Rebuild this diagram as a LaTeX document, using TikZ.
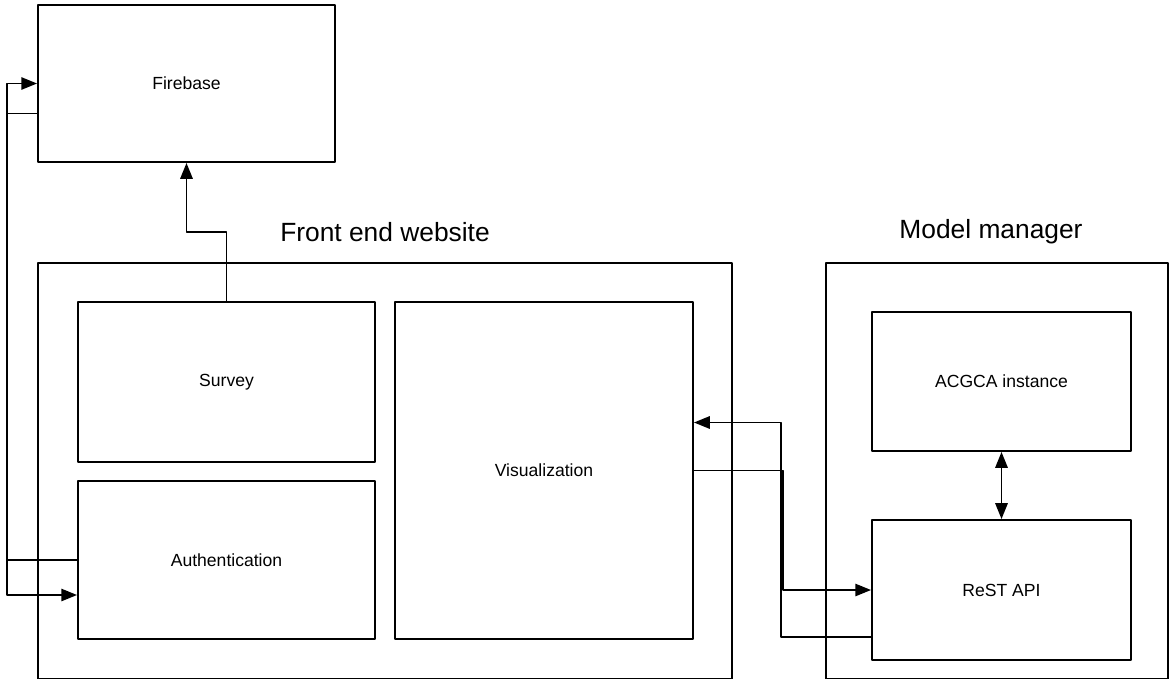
\documentclass[tikz,border=0pt]{standalone}
\usepackage{fontspec}
\setmainfont{Liberation Sans}
\usetikzlibrary{arrows.meta,calc}

\begin{document}
\begin{tikzpicture}[x=0.02cm, y=-0.02cm, line width=1.1pt, line join=round,
	box/.style={draw, inner sep=0pt, font=\fontsize{10}{12}\selectfont},
	grp/.style={font=\fontsize{15}{18}\selectfont},
	arr/.style={-{Triangle[length=9pt, width=7pt]}},
	darr/.style={{Triangle[length=9pt, width=7pt]}-{Triangle[length=9pt, width=7pt]}}]
				\useasboundingbox (0,0) rectangle (1169,679);
				% groups
				\node[box, minimum width=13.88cm, minimum height=8.32cm] (front) at (385,471) {};
				\node[box, minimum width=6.84cm, minimum height=8.32cm] (model) at (997,471) {};
				\node[grp] (frontlbl) at (385,232) {Front end website};
				\node[grp] (modellbl) at (991,232) {Model manager};
				% blocks
				\node[box, minimum width=5.94cm, minimum height=3.14cm] (fire) at (186.5,83.5) {Firebase};
				\node[box, minimum width=5.94cm, minimum height=3.2cm] (survey) at (226.5,382) {Survey};
				\node[box, minimum width=5.94cm, minimum height=3.16cm] (auth) at (226.5,560) {Authentication};
				\node[box, minimum width=5.96cm, minimum height=6.74cm] (vis) at (544,470.5) {Visualization};
				\node[box, minimum width=5.18cm, minimum height=2.78cm] (acgca) at (1001.5,381.5) {ACGCA instance};
				\node[box, minimum width=5.18cm, minimum height=2.8cm] (rest) at (1001.5,590) {ReST API};
				% connectors
				\draw[arr] (auth.west) -- ++(-70,0) |- (fire.west);
				\draw[arr] ($(fire.west)+(0,30)$) -- ++(-30,0) |- ($(auth.west)+(0,35)$);
				\draw[arr] (survey.north) -- ++(0,-69) -| (fire.south);
				\draw[arr] (vis.east) -- ++(89,0) |- (rest.west);
				\draw[arr] ($(rest.west)+(0,47)$) -- ++(-90,0) |- ($(vis.east)+(0,-48)$);
				\draw[darr] (acgca.south) -- (rest.north);
\end{tikzpicture}
\end{document}
